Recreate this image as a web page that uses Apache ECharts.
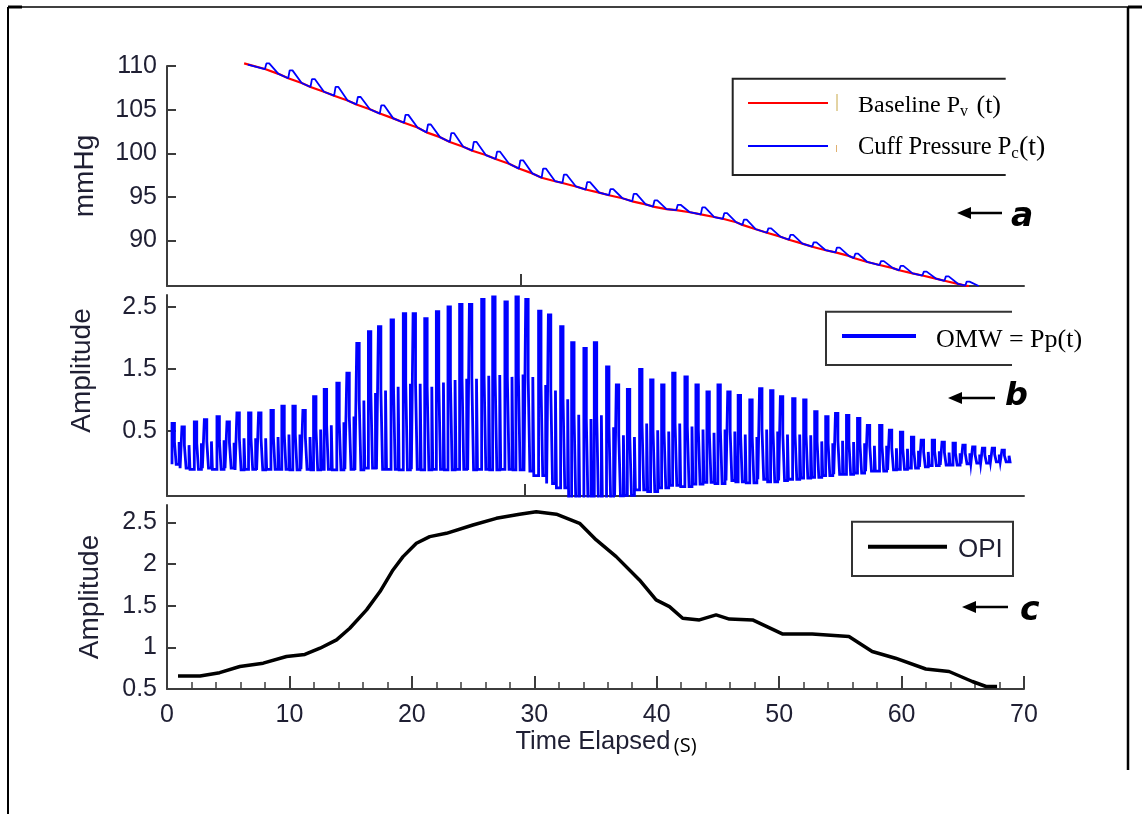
<!DOCTYPE html>
<html><head><meta charset="utf-8">
<script src="https://cdn.jsdelivr.net/npm/echarts@6/dist/echarts.min.js"></script>
<style>html,body{margin:0;padding:0;background:#fff}#c{width:1142px;height:814px}</style>
</head><body><div id="c"></div>
<script>
// ---------- Panel a: cuff pressure (mmHg) ----------
const cuffT = [8.0, 9.9, 11.72, 13.65, 15.47, 17.38, 19.36, 21.2, 23.1, 24.94, 26.84, 28.74, 30.6, 32.3, 34.2, 36.1, 38.0, 39.7, 41.6, 43.6, 45.4, 47.0, 49.0, 50.8, 52.7, 54.6, 56.1, 58.2, 59.8, 61.7, 63.5, 65.2];
const cuffBase = [109.65, 108.6, 107.6, 106.6, 105.6, 104.55, 103.5, 102.4, 101.3, 100.3, 99.35, 98.25, 97.2, 96.6, 95.85, 95.2, 94.5, 93.9, 93.5, 93.0, 92.5, 91.8, 90.9, 90.1, 89.3, 88.65, 88.0, 87.2, 86.6, 86.0, 85.4, 84.85];
const cuffPeak = [110.3, 109.5, 108.5, 107.6, 106.45, 105.5, 104.4, 103.3, 102.3, 101.3, 100.2, 99.2, 98.25, 97.55, 96.7, 95.9, 95.35, 94.6, 94.1, 93.8, 93.15, 92.4, 91.4, 90.65, 89.8, 89.2, 88.5, 87.65, 87.1, 86.45, 85.9, 85.3];
const cuffRejoin = [109.1, 108.05, 107.05, 106.05, 105.05, 104.0, 102.95, 101.85, 100.75, 99.8, 98.8, 97.7, 96.8, 96.2, 95.5, 94.85, 94.15, 93.6, 93.25, 92.7, 92.1, 91.3, 90.45, 89.65, 88.9, 88.25, 87.55, 86.85, 86.25, 85.65, 85.05, 84.8];
const baselineEndsT = [6.3, 65.5];
const baselineEndsV = [110.3, 84.8];
const cuffStart = [6.6, 110.15];
const mmHgTicks = [90, 95, 100, 105, 110];

// ---------- Panel b: OMW ----------
const omwT = [0.41,1.22,2.23,3.05,4.08,4.9,5.71,6.66,7.48,8.49,9.38,10.28,11.1,11.97,12.84,13.87,14.69,15.5,16.45,17.27,18.3,19.3,20.1,21.05,22.0,22.95,23.9,24.7,25.7,26.6,27.6,28.5,29.3,30.35,31.15,32.15,33.05,34.05,34.9,35.9,36.7,37.6,38.6,39.5,40.4,41.3,42.3,43.2,44.1,45.0,45.8,46.65,47.6,48.4,49.3,50.1,51.1,52.0,52.9,53.8,54.6,55.5,56.4,57.2,58.2,59.0,59.9,60.8,61.6,62.5,63.3,64.2,65.0,65.8,66.6,67.4,68.2];
const omwHi = [0.62,0.565,0.645,0.68,0.73,0.645,0.79,0.79,0.79,0.83,0.90,0.90,0.83,1.05,1.17,1.27,1.43,1.91,2.10,2.18,2.29,2.39,2.39,2.31,2.42,2.50,2.54,2.54,2.62,2.66,2.58,2.66,2.62,2.43,2.37,2.18,1.92,1.83,1.92,1.53,1.24,1.17,1.49,1.32,1.24,1.43,1.37,1.24,1.13,1.24,1.13,1.07,1.0,1.18,1.15,1.05,1.02,1.0,0.81,0.73,0.78,0.75,0.70,0.59,0.59,0.51,0.48,0.40,0.35,0.35,0.32,0.30,0.27,0.24,0.22,0.22,0.19];
const omwMid = [0.32,0.27,0.30,0.33,0.35,0.31,0.38,0.38,0.38,0.40,0.44,0.44,0.40,0.52,0.59,0.64,0.73,0.99,1.11,1.15,1.21,1.26,1.26,1.21,1.28,1.32,1.34,1.34,1.39,1.40,1.37,1.41,1.37,1.24,1.15,1.01,0.76,0.69,0.75,0.56,0.43,0.40,0.62,0.51,0.49,0.62,0.57,0.52,0.47,0.52,0.49,0.44,0.40,0.52,0.49,0.44,0.44,0.43,0.33,0.30,0.34,0.32,0.30,0.26,0.26,0.22,0.21,0.18,0.16,0.17,0.15,0.14,0.14,0.12,0.11,0.12,0.10];
const omwLo = [-0.04,-0.10,-0.12,-0.10,-0.12,-0.10,-0.13,-0.12,-0.13,-0.12,-0.12,-0.13,-0.12,-0.13,-0.12,-0.13,-0.12,-0.13,-0.10,-0.12,-0.12,-0.13,-0.12,-0.13,-0.12,-0.13,-0.12,-0.13,-0.12,-0.13,-0.12,-0.13,-0.15,-0.22,-0.35,-0.42,-0.65,-0.70,-0.68,-0.62,-0.55,-0.54,-0.45,-0.48,-0.42,-0.38,-0.40,-0.36,-0.33,-0.35,-0.30,-0.32,-0.34,-0.28,-0.32,-0.30,-0.28,-0.26,-0.25,-0.22,-0.20,-0.20,-0.18,-0.15,-0.15,-0.13,-0.12,-0.10,-0.08,-0.06,-0.05,-0.05,-0.03,-0.02,-0.02,0.0,0.0];
const omwEnd = [68.6, 0.0];
const omwTicks = [0.5, 1.5, 2.5];

// ---------- Panel c: OPI ----------
const opiT = [0.9, 2.7, 4.3, 5.95, 7.86, 9.76, 11.26, 12.5, 13.85, 14.93, 16.3, 17.4, 18.46, 19.28, 20.37, 21.46, 22.82, 24.99, 26.9, 28.8, 30.16, 31.8, 33.7, 35.06, 36.69, 38.59, 39.95, 41.04, 42.12, 43.49, 44.85, 45.93, 47.83, 50.3, 52.7, 55.7, 57.6, 59.5, 61.98, 63.88, 65.78, 66.9, 67.8];
const opiV = [0.656, 0.656, 0.696, 0.77, 0.81, 0.89, 0.915, 0.99, 1.09, 1.23, 1.45, 1.67, 1.93, 2.09, 2.25, 2.33, 2.37, 2.47, 2.55, 2.60, 2.63, 2.60, 2.49, 2.29, 2.09, 1.81, 1.57, 1.49, 1.35, 1.33, 1.39, 1.34, 1.33, 1.16, 1.16, 1.13, 0.95, 0.87, 0.74, 0.71, 0.59, 0.53, 0.53];
const opiTicks = [0.5, 1, 1.5, 2, 2.5];
const timeTicks = [0, 10, 20, 30, 40, 50, 60, 70];

// ---------- build series data ----------
const baselineData = [[baselineEndsT[0], baselineEndsV[0]]];
const cuffData = [cuffStart.slice()];
cuffT.forEach((t, i) => {
  baselineData.push([t, cuffBase[i]]);
  if (i < cuffT.length - 1) baselineData.push([t + 1.1, cuffRejoin[i]]);
  cuffData.push([t, cuffBase[i]], [t + 0.12, cuffPeak[i]], [t + 0.35, cuffPeak[i]], [t + 1.1, cuffRejoin[i]]);
});
baselineData.push([baselineEndsT[1], baselineEndsV[1]]);

// each beat: sharp rise to the peak, stepped fall through the mid level, then a secondary wave
const omwData = [];
omwT.forEach((t, i) => {
  const nextLo = i < omwT.length - 1 ? omwLo[i + 1] : omwEnd[1];
  omwData.push([t, omwLo[i]], [t, omwHi[i]], [t + 0.2, omwHi[i]], [t + 0.2, omwMid[i]],
               [t + 0.34, omwMid[i]], [t + 0.34, omwLo[i]], [t + 0.58, omwLo[i]], [t + 0.58, omwMid[i]],
               [t + 0.66, omwMid[i]], [t + 0.66, nextLo]);
});
omwData.push(omwEnd.slice());

const opiData = opiT.map((t, i) => [t, opiV[i]]);

// ---------- styles ----------
const SANS = "'Liberation Sans',Arial,sans-serif";
const SERIF = "'Liberation Serif','Times New Roman',serif";
const TXT = '#1f1f33';
const AX = '#3c3c3c';
const G = [
  {left: 167, top: 66, width: 857, height: 220},
  {left: 167, top: 295, width: 857, height: 201},
  {left: 167, top: 505, width: 857, height: 184}
];

function xAx(gi, extra) {
  return Object.assign({
    type: 'value', gridIndex: gi, min: 0, max: 70,
    axisLine: {show: true, onZero: false, lineStyle: {color: AX, width: 2}},
    splitLine: {show: false},
    axisLabel: {show: false},
    axisTick: {show: true, inside: true, length: 12, lineStyle: {color: AX, width: 2}}
  }, extra);
}
function yAx(gi, min, max, ticks, name, gap, pad) {
  return {
    type: 'value', gridIndex: gi, min: min, max: max,
    axisLine: {show: true, lineStyle: {color: AX, width: 2}},
    splitLine: {show: false},
    axisTick: {show: true, inside: true, length: 9, customValues: ticks, lineStyle: {color: AX, width: 2}},
    axisLabel: {show: true, customValues: ticks, margin: 10, color: TXT, fontFamily: SANS, fontSize: 25},
    name: name, nameLocation: 'middle', nameGap: gap, nameRotate: 90,
    nameTextStyle: {fontFamily: SANS, fontSize: 28, color: TXT, padding: pad || 0}
  };
}

const option = {
  animation: false,
  backgroundColor: '#ffffff',
  grid: G,
  xAxis: [
    xAx(0, {axisTick: {show: true, inside: true, length: 12, customValues: [28.9], lineStyle: {color: AX, width: 2}}}),
    xAx(1, {axisTick: {show: true, inside: true, length: 12, customValues: [29.2], lineStyle: {color: AX, width: 2}}}),
    xAx(2, {
      interval: 10,
      axisTick: {show: true, inside: true, length: 13, customValues: timeTicks, lineStyle: {color: AX, width: 2}},
      minorTick: {show: true, splitNumber: 5, length: 7, lineStyle: {color: AX, width: 1.5}},
      axisLabel: {show: true, customValues: timeTicks, margin: 14, color: TXT, fontFamily: SANS, fontSize: 25},
      name: '{a|Time Elapsed} {b|(S)}', nameLocation: 'middle', nameGap: 32,
      nameTextStyle: {padding: [0, 0, 0, 21], rich: {
        a: {fontFamily: SANS, fontSize: 25.5, color: TXT},
        b: {fontFamily: "'Open Sans',sans-serif", fontSize: 20, color: '#000', padding: [8, 0, 0, 0]}
      }}
    })
  ],
  yAxis: [
    yAx(0, 84.8, 110, mmHgTicks, 'mmHg', 68),
    yAx(1, -0.55, 2.69, omwTicks, 'Amplitude', 71, [0, 0, 0, 50]),
    yAx(2, 0.5, 2.71, opiTicks, 'Amplitude', 63)
  ],
  series: [
    {name: 'Baseline Pv (t)', type: 'line', xAxisIndex: 0, yAxisIndex: 0, data: baselineData, showSymbol: false, symbol: 'none', clip: false,
     lineStyle: {color: '#ff0000', width: 2.2}, z: 2},
    {name: 'Cuff Pressure Pc(t)', type: 'line', xAxisIndex: 0, yAxisIndex: 0, data: cuffData, showSymbol: false, symbol: 'none', clip: false,
     lineStyle: {color: '#0000ff', width: 1.8}, z: 3},
    {name: 'OMW = Pp(t)', type: 'line', xAxisIndex: 1, yAxisIndex: 1, data: omwData, showSymbol: false, symbol: 'none', clip: true,
     lineStyle: {color: '#0000ff', width: 2.8, join: 'miter'}},
    {name: 'OPI', type: 'line', xAxisIndex: 2, yAxisIndex: 2, data: opiData, showSymbol: false, symbol: 'none',
     lineStyle: {color: '#000000', width: 3.5}}
  ],
  graphic: [
    // outer frame
    {type: 'line', shape: {x1: 8, y1: 7, x2: 1142, y2: 7}, style: {stroke: '#000', lineWidth: 1.5}},
    {type: 'line', shape: {x1: 8, y1: 7, x2: 22, y2: 7}, style: {stroke: '#000', lineWidth: 3}},
    {type: 'line', shape: {x1: 1128, y1: 7, x2: 1142, y2: 7}, style: {stroke: '#000', lineWidth: 3}},
    {type: 'line', shape: {x1: 8, y1: 7, x2: 8, y2: 814}, style: {stroke: '#000', lineWidth: 2}},
    {type: 'line', shape: {x1: 1128, y1: 7, x2: 1128, y2: 770}, style: {stroke: '#000', lineWidth: 2.5}},
    // legend a
    {type: 'polyline', shape: {points: [[1005.7, 78.7], [732.7, 78.7], [732.7, 175], [1005.7, 175]]}, style: {stroke: '#222', lineWidth: 2, fill: null}},
    {type: 'line', shape: {x1: 748, y1: 103, x2: 828, y2: 103}, style: {stroke: '#ff0000', lineWidth: 2}},
    {type: 'line', shape: {x1: 748, y1: 146, x2: 828, y2: 146}, style: {stroke: '#0000ff', lineWidth: 2}},
    {type: 'line', shape: {x1: 837, y1: 94, x2: 837, y2: 111}, style: {stroke: '#c8a848', lineWidth: 1}},
    {type: 'line', shape: {x1: 836.5, y1: 145, x2: 836.5, y2: 152}, style: {stroke: '#e0b070', lineWidth: 1}},
    {type: 'text', x: 858, y: 106, style: {text: '{m|Baseline P}{s|v}{p| (t)}', verticalAlign: 'middle', rich: {
      m: {fontFamily: SERIF, fontSize: 24, lineHeight: 28, fill: '#000'},
      p: {fontFamily: SERIF, fontSize: 26, lineHeight: 28, fill: '#000'},
      s: {fontFamily: SERIF, fontSize: 16, lineHeight: 18, fill: '#000', verticalAlign: 'bottom', padding: [0, 2, 0, 0]}}}},
    {type: 'text', x: 858, y: 148, style: {text: '{m|Cuff Pressure P}{s|c}{p|(t)}', verticalAlign: 'middle', rich: {
      m: {fontFamily: SERIF, fontSize: 24.5, lineHeight: 28, fill: '#000'},
      p: {fontFamily: SERIF, fontSize: 28, lineHeight: 28, fill: '#000'},
      s: {fontFamily: SERIF, fontSize: 17, lineHeight: 18, fill: '#000', verticalAlign: 'bottom'}}}},
    // legend b
    {type: 'polyline', shape: {points: [[1012, 311.7], [826, 311.7], [826, 365], [1012, 365]]}, style: {stroke: '#333', lineWidth: 2, fill: null}},
    {type: 'line', shape: {x1: 842, y1: 336, x2: 916, y2: 336}, style: {stroke: '#0000ff', lineWidth: 4}},
    {type: 'text', x: 936, y: 340, style: {text: 'OMW = Pp(t)', verticalAlign: 'middle', font: "26px 'Liberation Serif','Times New Roman',serif", fill: '#000'}},
    // legend c
    {type: 'rect', shape: {x: 852, y: 521.7, width: 161, height: 54.3}, style: {stroke: '#333', lineWidth: 2, fill: '#fff'}},
    {type: 'line', shape: {x1: 868, y1: 546.7, x2: 947, y2: 546.7}, style: {stroke: '#000', lineWidth: 4}},
    {type: 'text', x: 958, y: 550, style: {text: 'OPI', verticalAlign: 'middle', font: "26px 'Liberation Sans',Arial,sans-serif", fill: TXT}},
    // arrows and panel letters
    {type: 'polygon', shape: {points: [[957, 213], [971, 207], [971, 219]]}, style: {fill: '#000'}},
    {type: 'line', shape: {x1: 969, y1: 213, x2: 1002, y2: 213}, style: {stroke: '#000', lineWidth: 2.5}},
    {type: 'text', x: 1011, y: 217, style: {text: 'a', verticalAlign: 'middle', font: "italic bold 33px 'DejaVu Sans',sans-serif", fill: '#000'}},
    {type: 'polygon', shape: {points: [[948, 398], [962, 392], [962, 404]]}, style: {fill: '#000'}},
    {type: 'line', shape: {x1: 960, y1: 398, x2: 995, y2: 398}, style: {stroke: '#000', lineWidth: 2.5}},
    {type: 'text', x: 1005, y: 397, style: {text: 'b', verticalAlign: 'middle', font: "italic bold 32px 'DejaVu Sans',sans-serif", fill: '#000'}},
    {type: 'polygon', shape: {points: [[962, 607], [976, 601], [976, 613]]}, style: {fill: '#000'}},
    {type: 'line', shape: {x1: 974, y1: 607, x2: 1008, y2: 607}, style: {stroke: '#000', lineWidth: 2.5}},
    {type: 'text', x: 1020, y: 611, style: {text: 'c', verticalAlign: 'middle', font: "italic bold 33px 'DejaVu Sans',sans-serif", fill: '#000'}}
  ]
};
const chart = echarts.init(document.getElementById('c'), null, {renderer: 'canvas'});
chart.setOption(option);
</script>
</body></html>
